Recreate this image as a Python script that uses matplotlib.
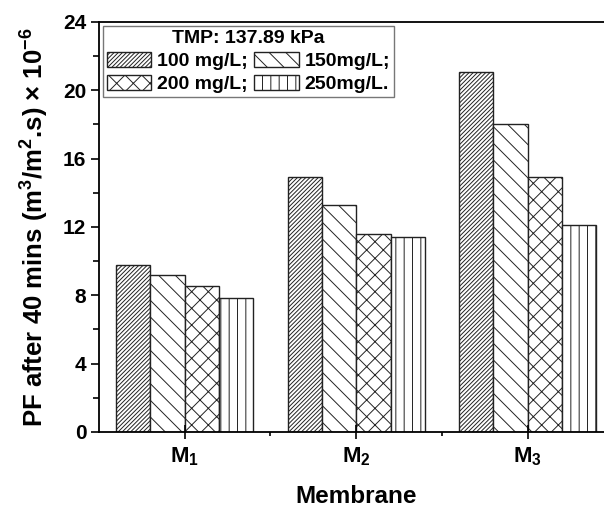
import matplotlib.pyplot as plt
import numpy as np

plt.rcParams['font.family'] = ['Liberation Sans', 'DejaVu Sans']
plt.rcParams['font.weight'] = 'bold'
plt.rcParams['mathtext.fontset'] = 'custom'
plt.rcParams['mathtext.rm'] = 'Liberation Sans:bold'
plt.rcParams['mathtext.bf'] = 'Liberation Sans:bold'
plt.rcParams['mathtext.default'] = 'bf'
plt.rcParams['hatch.linewidth'] = 0.7
plt.rcParams['hatch.color'] = '#333333'

membranes = ["M$_1$", "M$_2$", "M$_3$"]
concentrations = ["100 mg/L;", "150mg/L;", "200 mg/L;", "250mg/L."]
pf_100 = [9.78, 14.95, 21.05]
pf_150 = [9.2, 13.3, 18.03]
pf_200 = [8.53, 11.6, 14.95]
pf_250 = [7.83, 11.43, 12.12]
series = [pf_100, pf_150, pf_200, pf_250]
hatches = ["////////", "\\\\", "xx", "||"]

fig = plt.figure(figsize=(6.04, 5.09), dpi=100)
ax = fig.add_axes([0.1639, 0.1513, 0.8518, 0.8055])

x = np.arange(1, len(membranes) + 1)
width = 0.2
bars = []
for i, (vals, lab, h) in enumerate(zip(series, concentrations, hatches)):
    b = ax.bar(x + (i - 1.5) * width, vals, width, label=lab, facecolor='white',
               edgecolor='#222222', hatch=h, linewidth=1.0)
    bars.append(b)

ax.set_xlim(0.5, 3.5)
ax.set_ylim(0, 24)
ax.set_xticks(x)
ax.set_xticklabels(membranes, fontsize=16)
ax.set_xticks([1.5, 2.5], minor=True)
ax.set_yticks(np.arange(0, 25, 4))
ax.set_yticks(np.arange(2, 24, 4), minor=True)
ax.tick_params(axis='y', labelsize=15, direction='out', length=6, width=1.2, pad=3)
ax.tick_params(axis='y', which='minor', direction='out', length=4, width=1.2)
ax.tick_params(axis='x', which='major', direction='inout', length=10, width=1.2, labelsize=16, pad=5)
ax.tick_params(axis='x', which='minor', direction='out', length=3, width=1.2)
for s in ax.spines.values():
    s.set_linewidth(1.3)

ax.set_xlabel("Membrane", fontsize=17.5, fontweight='bold', labelpad=12)
ax.set_ylabel("PF after 40 mins (m$^3$/m$^2$.s) × 10$^{-6}$", fontsize=18.5,
              fontweight='bold', labelpad=9)

# legend is filled row by row in the original
order = [0, 2, 1, 3]
leg = ax.legend([bars[i] for i in order], [concentrations[i] for i in order],
                ncol=2, loc='upper left', bbox_to_anchor=(0.0, 1.0),
                title="TMP: 137.89 kPa", fontsize=14,
                title_fontproperties={'weight': 'bold', 'size': 14},
                handlelength=2.3, handleheight=0.8, columnspacing=0.3,
                handletextpad=0.3, borderpad=0.2, labelspacing=0.25,
                fancybox=False, edgecolor='#555555', borderaxespad=0.2)
leg.get_frame().set_linewidth(1.0)

fig.savefig("out.png", dpi=100)
